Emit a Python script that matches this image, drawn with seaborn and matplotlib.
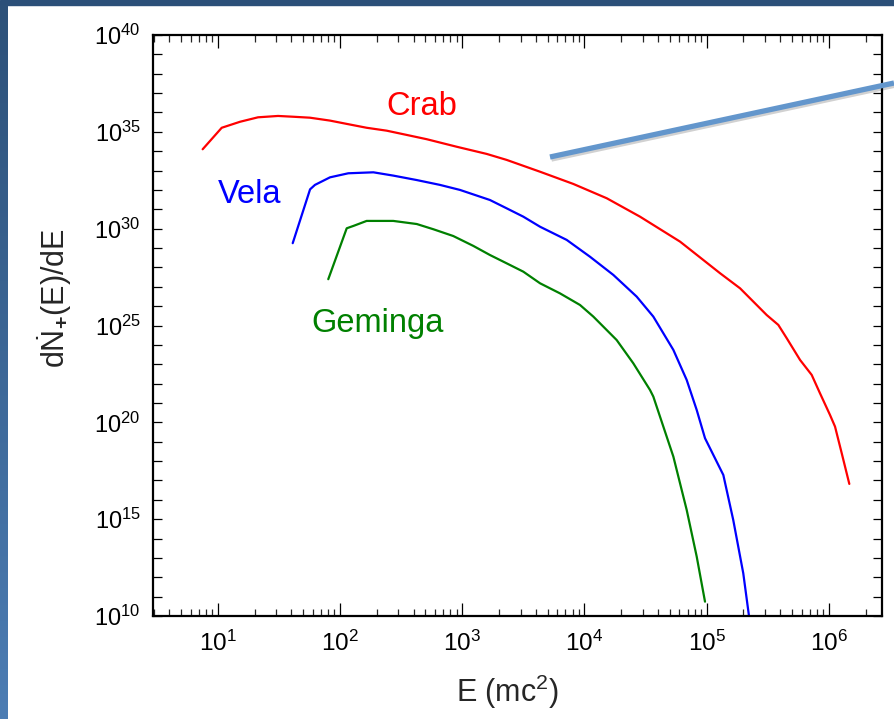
import numpy as np
import pandas as pd
import matplotlib
matplotlib.use('Agg')
import matplotlib.pyplot as plt
import matplotlib.patheffects as pe
from matplotlib.ticker import FixedLocator, FuncFormatter, NullFormatter
import seaborn as sns

# log10(E / mc^2) and log10(dN+/dE)
crab_logE = [0.876, 1.032, 1.182, 1.329, 1.493, 1.615, 1.754, 1.918, 2.055, 2.218,
             2.382, 2.546, 2.709, 2.955, 3.20, 3.364, 3.637, 3.909, 4.183, 4.455,
             4.783, 5.110, 5.274, 5.492, 5.587, 5.656, 5.765, 5.860, 5.928, 6.010,
             6.051, 6.106, 6.168]
crab_logN = [34.10, 35.21, 35.52, 35.75, 35.82, 35.78, 35.73, 35.58, 35.41, 35.21,
             35.06, 34.84, 34.62, 34.23, 33.86, 33.55, 32.94, 32.31, 31.57, 30.62,
             29.33, 27.70, 26.92, 25.54, 25.03, 24.34, 23.22, 22.45, 21.50, 20.38,
             19.78, 18.40, 16.82]

vela_logE = [1.613, 1.755, 1.795, 1.918, 2.068, 2.273, 2.436, 2.628, 2.818, 2.982,
             3.227, 3.364, 3.50, 3.637, 3.855, 4.046, 4.237, 4.428, 4.564, 4.728,
             4.837, 4.919, 4.987, 5.137, 5.218, 5.300, 5.349]
vela_logN = [29.25, 32.03, 32.26, 32.65, 32.86, 32.91, 32.74, 32.51, 32.26, 32.00,
             31.48, 31.05, 30.62, 30.10, 29.42, 28.55, 27.61, 26.49, 25.46, 23.74,
             22.19, 20.64, 19.18, 17.28, 14.96, 12.21, 9.90]

geminga_logE = [1.904, 2.055, 2.109, 2.218, 2.436, 2.628, 2.764, 2.927, 3.091, 3.227,
                3.364, 3.50, 3.637, 3.80, 3.964, 4.073, 4.264, 4.40, 4.537, 4.564,
                4.646, 4.728, 4.837, 4.919, 4.987]
geminga_logN = [27.39, 30.02, 30.14, 30.40, 30.40, 30.24, 29.97, 29.62, 29.11, 28.64,
                28.21, 27.78, 27.18, 26.66, 26.06, 25.46, 24.25, 23.05, 21.67, 21.33,
                19.78, 18.23, 15.48, 13.07, 10.74]

names = ['Crab', 'Vela', 'Geminga']
colors = ['#ff0000', '#0000ff', '#008000']
x_decades = [1, 2, 3, 4, 5, 6]
y_decades = list(range(10, 41))

sns.set_style('ticks')
plt.rcParams['font.family'] = ['Liberation Sans', 'DejaVu Sans']
plt.rcParams['mathtext.fontset'] = 'custom'
plt.rcParams['mathtext.rm'] = 'Liberation Sans'
plt.rcParams['mathtext.it'] = 'Liberation Sans:italic'
plt.rcParams['mathtext.bf'] = 'Liberation Sans:bold'
plt.rcParams['mathtext.default'] = 'regular'

W, H = 894, 719
fig = plt.figure(figsize=(W / 100, H / 100), dpi=100, facecolor='white')

# slide decoration: dark bar on top, gradient strip on the left
fig.add_artist(plt.Rectangle((0, 1 - 5 / H), 1, 5 / H, transform=fig.transFigure,
                             color='#2c5079', zorder=0))
strip = fig.add_axes([0, 0, 8 / W, 1 - 5 / H])
grad = np.linspace(0, 1, 256).reshape(-1, 1)
cmap = matplotlib.colors.LinearSegmentedColormap.from_list('s', ['#2d5179', '#4c7db4'])
strip.imshow(grad, aspect='auto', cmap=cmap)
strip.axis('off')

left, right, top, bottom = 152.5, 882, 35, 616
ax = fig.add_axes([left / W, 1 - bottom / H, (right - left) / W, (bottom - top) / H])

frames = []
for n, lx, ly in zip(names, [crab_logE, vela_logE, geminga_logE],
                     [crab_logN, vela_logN, geminga_logN]):
    frames.append(pd.DataFrame({'E': 10.0 ** np.array(lx), 'N': 10.0 ** np.array(ly), 'src': n}))
df = pd.concat(frames, ignore_index=True)

sns.lineplot(data=df, x='E', y='N', hue='src', palette=dict(zip(names, colors)),
             sort=False, estimator=None, linewidth=1.6, legend=False, ax=ax)

ax.set_xscale('log')
ax.set_yscale('log')
ax.set_xlim(10 ** 0.4656, 10 ** 6.4354)
ax.set_ylim(1e10, 1e40)

ax.xaxis.set_major_locator(FixedLocator([10.0 ** k for k in x_decades]))
ax.xaxis.set_minor_locator(FixedLocator([m * 10.0 ** k for k in range(0, 7) for m in range(2, 10)]))
ax.xaxis.set_minor_formatter(NullFormatter())
ax.xaxis.set_major_formatter(FuncFormatter(lambda v, p: r'$10^{%d}$' % round(np.log10(v))))
ax.yaxis.set_major_locator(FixedLocator([10.0 ** k for k in y_decades]))
ax.yaxis.set_minor_locator(FixedLocator([]))
ax.yaxis.set_major_formatter(FuncFormatter(
    lambda v, p: r'$10^{%d}$' % round(np.log10(v)) if round(np.log10(v)) % 5 == 0 else ''))

ax.tick_params(axis='x', which='major', direction='in', length=9.5, width=0.9,
               top=True, bottom=True, labelsize=17.5, pad=10.5, colors='black')
ax.tick_params(axis='x', which='minor', direction='in', length=5, width=0.9,
               top=True, bottom=True)
ax.tick_params(axis='y', which='major', direction='in', length=6.5, width=0.9,
               left=True, right=True, labelsize=17, pad=8.5, colors='black')
for s in ax.spines.values():
    s.set_linewidth(1.6)
    s.set_color('black')

ax.set_xlabel(r'E (mc$^2$)', fontsize=22, va='center')
ax.xaxis.set_label_coords((508 - left) / (right - left), -(692 - bottom) / (bottom - top))
ax.set_ylabel(r'd$\dot{N}_{\mathbf{+}}$(E)/dE', fontsize=22, va='center')
ax.yaxis.set_label_coords((55 - left) / (right - left), (bottom - 298) / (bottom - top))

ax.text(238, 10 ** 35.87, 'Crab', color=colors[0], fontsize=23.5, va='baseline')
ax.text(10.1, 10 ** 31.31, 'Vela', color=colors[1], fontsize=23.5, va='baseline')
ax.text(58.7, 10 ** 24.68, 'Geminga', color=colors[2], fontsize=23.5, va='baseline')

# callout line from the slide
ln = plt.Line2D([550 / W, 1.0], [1 - 157 / H, 1 - 83 / H], transform=fig.transFigure,
                color='#6396cc', linewidth=3.8, solid_capstyle='butt', zorder=10,
                path_effects=[pe.SimpleLineShadow(offset=(1, -1.5), alpha=0.18), pe.Normal()])
fig.add_artist(ln)

fig.savefig('out.png', dpi=100, facecolor='white')
